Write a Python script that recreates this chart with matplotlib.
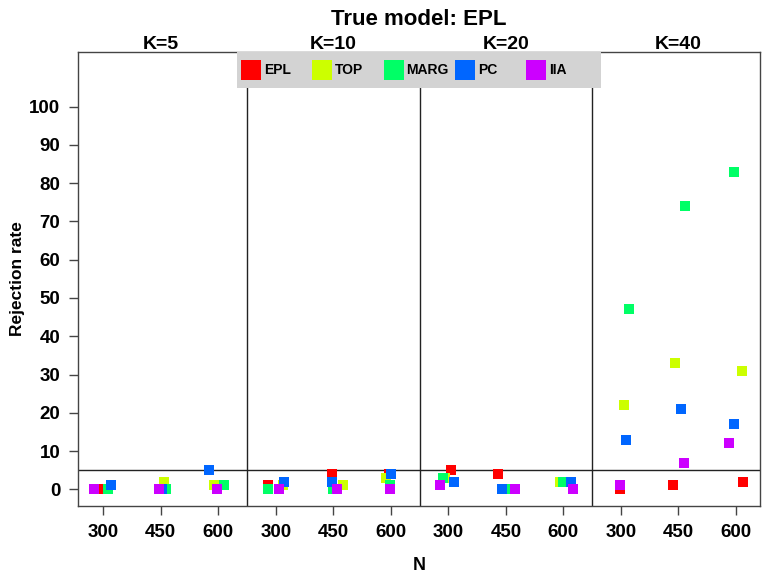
import numpy as np
import matplotlib
matplotlib.use('Agg')
import matplotlib.pyplot as plt
import matplotlib.transforms as mtransforms
from matplotlib.patches import Rectangle

plt.rcParams['font.family'] = ['Liberation Sans', 'DejaVu Sans']
plt.rcParams['font.weight'] = 'bold'

# data
K_values = [5, 10, 20, 40]
N_labels = ['300', '450', '600']
models = ['EPL', 'TOP', 'MARG', 'PC', 'IIA']
colors = ['#FF0000', '#CCFF00', '#00FF66', '#0066FF', '#CC00FF']

# rejection rate (%), 12 groups: K=5 (N=300,450,600), K=10, K=20, K=40
rate_epl = [0, 0, 0, 1, 4, 4, 5, 4, 0, 0, 1, 2]
rate_top = [0, 2, 1, 1, 1, 3, 3, 0, 2, 22, 33, 31]
rate_marg = [0, 0, 1, 0, 0, 1, 3, 0, 2, 47, 74, 83]
rate_pc = [1, 0, 5, 2, 2, 4, 2, 0, 2, 13, 21, 17]
rate_iia = [0, 0, 0, 0, 0, 0, 1, 0, 0, 1, 7, 12]

# horizontal jitter of each point around its N position
jit_epl = [-0.10, 0.0, -0.03, -0.14, -0.03, -0.03, 0.05, -0.14, 0.17, -0.02, -0.10, 0.12]
jit_top = [0.09, 0.05, -0.07, 0.12, 0.16, -0.09, -0.05, 0.07, -0.05, 0.05, -0.05, 0.10]
jit_marg = [0.09, 0.09, 0.10, -0.14, 0.0, -0.02, -0.09, 0.05, 0.0, 0.14, 0.12, -0.03]
jit_pc = [0.14, 0.02, -0.16, 0.14, -0.03, 0.0, 0.10, -0.07, 0.14, 0.09, 0.05, -0.03]
jit_iia = [-0.16, -0.03, -0.03, 0.05, 0.07, -0.02, -0.14, 0.16, 0.17, -0.02, 0.10, -0.12]

nominal = 5

rates = [rate_epl, rate_top, rate_marg, rate_pc, rate_iia]
jits = [jit_epl, jit_top, jit_marg, jit_pc, jit_iia]

fig = plt.figure(figsize=(7.64, 5.75), dpi=100)
ax = fig.add_axes([78/764, 1-506/575, 682/764, 454/575])

pos = np.arange(1, 13)
ax.axhline(nominal, color='#222222', lw=1.0, zorder=1)
for d in [3.5, 6.5, 9.5]:
    ax.axvline(d, color='#222222', lw=1.0, zorder=1)

for r, j, c in zip(rates, jits, colors):
    ax.plot(pos + np.array(j), r, 's', color=c, markersize=7.2,
            markeredgewidth=0, zorder=3, clip_on=False)

ax.set_xlim(0.56, 12.42)
ax.set_ylim(-4.37, 114.3)
ax.set_xticks(pos)
ax.set_xticklabels(N_labels * 4)
ax.set_yticks(np.arange(0, 101, 10))
ax.tick_params(length=6.5, width=1.0, color='#444444', labelsize=13.5, pad=6.2)
for s in ax.spines.values():
    s.set_color('#444444')
    s.set_linewidth(1.0)

ax.set_ylabel('Rejection rate', fontsize=12.5, fontweight='bold')
ax.yaxis.set_label_coords(-0.077, 0.5)
ax.set_xlabel('N', fontsize=13, fontweight='bold')
ax.xaxis.set_label_coords(0.5, -0.113)

trans = mtransforms.blended_transform_factory(ax.transData, ax.transAxes)
for i, k in enumerate(K_values):
    ax.text(2 + 3*i, 1 + 3/454, 'K=%d' % k, transform=trans, ha='center',
            va='baseline', fontsize=14, fontweight='bold')

fig.text(419/764, 1-25/575, 'True model: EPL', ha='center', va='baseline',
         fontsize=16, fontweight='bold')

# legend box drawn R style, equal spacing between entries
def px2ax(x, y):
    return (x - 78) / 682, (506 - y) / 454

x0, y0 = px2ax(237, 88)
x1, y1 = px2ax(601, 52)
ax.add_patch(Rectangle((x0, y0), x1 - x0, y1 - y0, transform=ax.transAxes,
                       facecolor='#D3D3D3', edgecolor='none', zorder=5, clip_on=False))
for i, (m, c) in enumerate(zip(models, colors)):
    lx = 241 + 71.25 * i
    sx, sy = px2ax(lx, 80)
    ax.add_patch(Rectangle((sx, sy), 20/682, 20/454, transform=ax.transAxes,
                           facecolor=c, edgecolor='none', zorder=6, clip_on=False))
    tx, ty = px2ax(lx + 23, 70)
    ax.text(tx, ty, m, transform=ax.transAxes, ha='left', va='center',
            fontsize=10, fontweight='bold', zorder=7)

plt.savefig('out.png', dpi=100)
